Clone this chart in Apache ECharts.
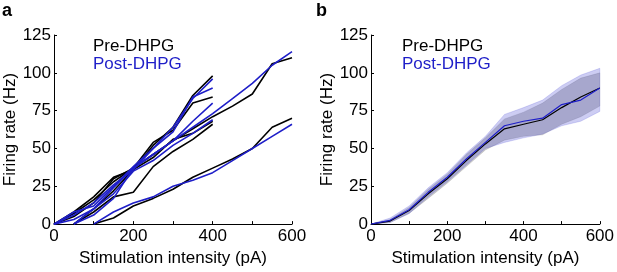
<!DOCTYPE html>
<html>
<head>
<meta charset="utf-8">
<script src="https://cdn.jsdelivr.net/npm/echarts@6/dist/echarts.min.js"></script>
<style>
  html, body { margin: 0; padding: 0; background: #fff; }
  #chart { width: 617px; height: 272px; }
</style>
</head>
<body>
<div id="chart"></div>
<script>
// 颜色
const preColor = '#000000'
const postColor = '#1e1ec8'

// 面板 a：每个细胞的刺激强度 (pA) 与放电频率 (Hz)
const stimShort = [0, 50, 100, 150, 200, 250, 300, 350, 400]
const stimShortLate = [50, 100, 150, 200, 250, 300, 350, 400]
const stimLong = [0, 50, 100, 150, 200, 250, 300, 350, 400, 450, 500, 550, 600]
const stimLongLate = [100, 150, 200, 250, 300, 350, 400, 450, 500, 550, 600]

const pre1 = [0, 8, 18, 31, 36, 52, 64, 85, 98]
const pre2 = [0, 7, 16, 28, 37, 54, 62, 80, 84]
const pre3 = [0, 8, 18, 21, 38, 48, 56, 66]
const pre4 = [0, 10, 22, 36, 44, 56, 60, 68]
const pre5 = [0, 5, 14, 30, 37, 46, 55, 63, 71, 78, 86, 106, 110]
const pre6 = [0, 4, 12, 17, 23, 31, 37, 43, 50, 64, 70]

const post1 = [0, 6, 14, 26, 36, 50, 64, 83, 96]
const post2 = [0, 8, 12, 25, 38, 50, 61, 84, 90]
const post3 = [0, 6, 17, 37, 46, 55, 68, 80]
const post4 = [0, 10, 20, 35, 42, 52, 60, 69]
const post5 = [0, 3, 10, 24, 37, 46, 55, 64, 73, 83, 93, 105, 114]
const post6 = [0, 8, 14, 18, 25, 29, 34, 42, 50, 58, 66]

// 面板 b：均值与误差带
const stimMean = [0, 50, 100, 150, 200, 250, 300, 350, 400, 450, 500, 550, 600]
const preMean = [0, 2, 9, 20, 30, 42, 53, 63, 66, 69, 77, 84, 90]
const preLow = [0, 1, 7, 17, 27, 38, 49, 55.5, 58, 59, 66, 71, 78]
const preHigh = [0, 3, 11, 23, 33, 46, 57, 69.5, 74, 80, 89, 96.5, 100]
const postMean = [0, 2.5, 9.5, 21, 31, 43, 54, 65, 68, 70, 79, 82, 90]
const postLow = [0, 1, 7, 18, 28, 39, 50, 54, 57, 59.5, 65, 68, 74.5]
const postHigh = [0, 4, 12, 24, 34, 47, 58, 72.5, 77, 82, 91.5, 98.5, 103]

// 坐标轴刻度
const xTicks = [0, 200, 400, 600]
const yTicks = [0, 25, 50, 75, 100, 125]

const pair = (xs, ys) => ys.map((v, i) => [xs[i], v])
const font = 'Liberation Sans, Arial, sans-serif'

function cellLine(xs, ys, color) {
  return {
    type: 'line',
    xAxisIndex: 0,
    yAxisIndex: 0,
    data: pair(xs, ys),
    symbol: 'none',
    lineStyle: { color, width: 1.6 },
    silent: true,
    animation: false
  }
}

// 误差带：用 custom 系列画成闭合多边形（上边界 + 反向下边界）
function band(low, high, fill, edge) {
  return {
    type: 'custom',
    xAxisIndex: 1,
    yAxisIndex: 1,
    data: [[0, 0]],
    silent: true,
    animation: false,
    renderItem(params, api) {
      const upper = stimMean.map((x, i) => api.coord([x, high[i]]))
      const lower = stimMean.map((x, i) => api.coord([x, low[i]])).reverse()
      return {
        type: 'polygon',
        shape: { points: upper.concat(lower) },
        style: { fill, stroke: edge, lineWidth: 0.8 }
      }
    }
  }
}

function meanLine(ys, color) {
  return {
    type: 'line',
    xAxisIndex: 1,
    yAxisIndex: 1,
    data: pair(stimMean, ys),
    symbol: 'none',
    lineStyle: { color, width: 1.2 },
    silent: true,
    animation: false
  }
}

function xAxis(gridIndex) {
  return {
    type: 'value',
    gridIndex,
    min: 0,
    max: 600,
    interval: 100,
    name: 'Stimulation intensity (pA)',
    nameLocation: 'middle',
    nameGap: 23,
    nameTextStyle: { fontFamily: font, fontSize: 17, color: '#000' },
    axisLine: { lineStyle: { color: '#000', width: 1 } },
    axisTick: { inside: true, length: 3, lineStyle: { color: '#000' } },
    axisLabel: {
      margin: 4,
      fontFamily: font,
      fontSize: 17,
      color: '#000',
      formatter: v => (xTicks.includes(v) ? String(v) : '')
    },
    splitLine: { show: false }
  }
}

function yAxis(gridIndex) {
  return {
    type: 'value',
    gridIndex,
    min: 0,
    max: 125,
    interval: 25,
    name: 'Firing rate (Hz)',
    nameLocation: 'middle',
    nameGap: 23,
    nameTextStyle: { fontFamily: font, fontSize: 17, color: '#000' },
    axisLine: { show: true, lineStyle: { color: '#000', width: 1 } },
    axisTick: { show: true, inside: true, length: 3, lineStyle: { color: '#000' } },
    axisLabel: {
      margin: 3,
      fontFamily: font,
      fontSize: 17,
      color: '#000',
      formatter: v => (yTicks.includes(v) ? String(v) : '')
    },
    splitLine: { show: false }
  }
}

function legendText(left, top, text, color) {
  return {
    type: 'text',
    left,
    top,
    style: { text, fill: color, font: '17px ' + font }
  }
}

const chart = echarts.init(document.getElementById('chart'), null, { renderer: 'canvas' })

chart.setOption({
  backgroundColor: '#fff',
  grid: [
    { left: 54, top: 35, width: 238, height: 199 },
    { left: 371, top: 35, width: 230, height: 198 }
  ],
  xAxis: [xAxis(0), xAxis(1)],
  yAxis: [yAxis(0), yAxis(1)],
  graphic: [
    { type: 'text', left: 2, top: 2, style: { text: 'a', fill: '#000', font: 'bold 18px ' + font } },
    { type: 'text', left: 316, top: 2, style: { text: 'b', fill: '#000', font: 'bold 18px ' + font } },
    legendText(93, 38, 'Pre-DHPG', preColor),
    legendText(93, 56, 'Post-DHPG', postColor),
    legendText(402, 38, 'Pre-DHPG', preColor),
    legendText(402, 56, 'Post-DHPG', postColor)
  ],
  series: [
    cellLine(stimShort, pre1, preColor),
    cellLine(stimShort, pre2, preColor),
    cellLine(stimShortLate, pre3, preColor),
    cellLine(stimShortLate, pre4, preColor),
    cellLine(stimLong, pre5, preColor),
    cellLine(stimLongLate, pre6, preColor),
    cellLine(stimShort, post1, postColor),
    cellLine(stimShort, post2, postColor),
    cellLine(stimShortLate, post3, postColor),
    cellLine(stimShortLate, post4, postColor),
    cellLine(stimLong, post5, postColor),
    cellLine(stimLongLate, post6, postColor),
    band(preLow, preHigh, 'rgba(0,0,0,0.2)', 'rgba(0,0,0,0.12)'),
    band(postLow, postHigh, 'rgba(60,60,210,0.26)', 'rgba(60,60,210,0.22)'),
    meanLine(preMean, preColor),
    meanLine(postMean, postColor)
  ]
})
</script>
</body>
</html>
